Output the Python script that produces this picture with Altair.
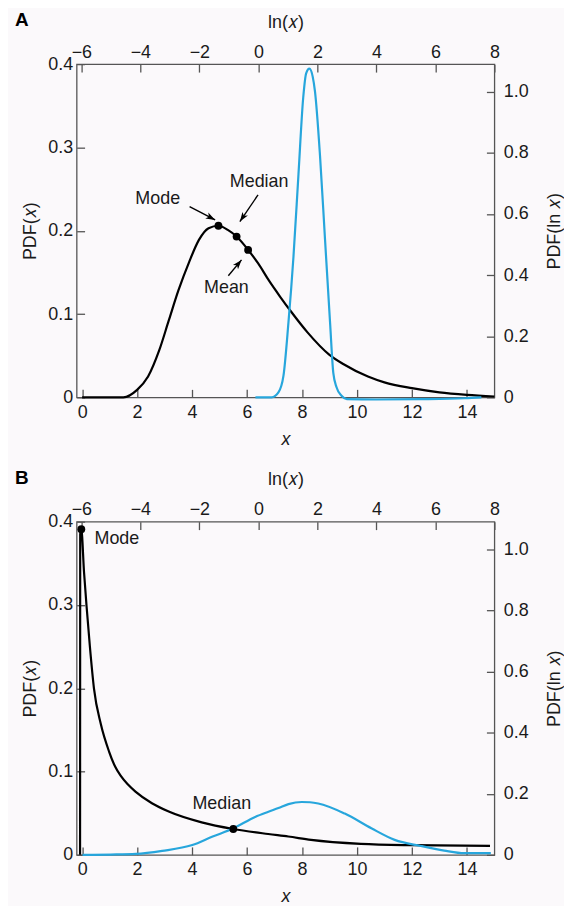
import math
import altair as alt
import pandas as pd

# ---------------- Panel A data ----------------
a_x = [0, 1.5, 2.0, 2.4, 2.8, 3.15, 3.5, 3.9, 4.25, 4.6, 4.96, 5.3, 5.62, 6.04,
       6.4, 6.8, 7.2, 7.6, 8.2, 9.0, 9.5, 10.4, 11, 12, 13, 14, 15]
a_pdf = [0, 0, 0.009, 0.025, 0.056, 0.092, 0.128, 0.163, 0.189, 0.203, 0.206, 0.201,
         0.193, 0.177, 0.161, 0.140, 0.121, 0.103, 0.078, 0.051, 0.040, 0.025, 0.018,
         0.011, 0.006, 0.003, 0.001]
a_lnx = [-0.1, 0.45, 0.68, 0.85, 1.02, 1.19, 1.36, 1.52, 1.62, 1.73, 1.84, 1.92, 2.09,
         2.26, 2.43, 2.54, 2.65, 2.82, 3.0, 4.0, 5.5, 7.0, 7.56]
a_pdf_ln = [0, 0, 0.016, 0.07, 0.245, 0.46, 0.73, 0.98, 1.06, 1.075, 1.05, 1.0, 0.79,
            0.516, 0.245, 0.08, 0.033, 0.005, -0.006, -0.007, -0.006, -0.003, 0]
a_dot_label = ["Mode", "Median", "Mean"]
a_dot_x = [4.96, 5.62, 6.04]
a_dot_y = [0.206, 0.193, 0.177]
a_text_x = [2.75, 6.44, 5.25]
a_text_y = [0.2385, 0.2587, 0.131]
a_text_align = ["center", "center", "center"]
a_arrow_x1 = [3.91, 6.40, 5.32]
a_arrow_y1 = [0.229, 0.243, 0.146]
a_arrow_x2 = [4.84, 5.74, 5.80]
a_arrow_y2 = [0.213, 0.211, 0.165]

# ---------------- Panel B data ----------------
b_x = [-0.075, -0.07, -0.03, 0.07, 0.16, 0.28, 0.43, 0.68, 0.98, 1.2, 1.4, 1.65, 1.94,
       2.54, 3.15, 4.35, 5.5, 6.77, 7.5, 8.33, 10.14, 11.95, 14.84]
b_pdf = [0, 0.385, 0.391, 0.339, 0.299, 0.251, 0.2, 0.157, 0.124, 0.106, 0.095, 0.085,
         0.076, 0.062, 0.052, 0.039, 0.031, 0.025, 0.022, 0.018, 0.0132, 0.0116, 0.0108]
b_lnx = [-5.96, -5.0, -4.15, -3.26, -2.24, -1.57, -0.84, -0.11, 0.34, 0.68, 1.02, 1.47,
         1.75, 2.03, 2.93, 3.83, 4.62, 5.51, 6.30, 6.98, 7.88]
b_pdf_ln = [0, 0.001, 0.003, 0.013, 0.032, 0.059, 0.087, 0.124, 0.141, 0.153, 0.166,
            0.173, 0.172, 0.168, 0.135, 0.087, 0.049, 0.029, 0.014, 0.0055, 0.0055]
b_dot_label = ["Mode", "Median"]
b_dot_x = [-0.03, 5.5]
b_dot_y = [0.391, 0.031]
b_text_x = [0.45, 5.08]
b_text_y = [0.379, 0.061]
b_text_align = ["left", "center"]

# ---------------- axes / ticks ----------------
x_ticks = [0, 2, 4, 6, 8, 10, 12, 14]
lnx_ticks = [-6, -4, -2, 0, 2, 4, 6, 8]
pdf_ticks = [0, 0.1, 0.2, 0.3, 0.4]
pdf_ln_ticks = [0, 0.2, 0.4, 0.6, 0.8, 1.0]
x_domain = [-0.2, 15]
lnx_domain = [-6.16, 8]
pdf_domain = [0, 0.4]
pdf_ln_domain = [0, 1.09]

W, H = 420, 335
BLUE = "#27a6dc"
FONT = "Liberation Sans"
TICK_LEN = 8
ARROW = "M0,0 L-0.7,2 L0,1.5 L0.7,2 Z"
LABEL_EXPR = "datum.value == 0 ? '0' : format(datum.value, '.1f')"

XS = alt.Scale(domain=x_domain, nice=False, zero=False)
YS = alt.Scale(domain=pdf_domain, nice=False, zero=False)
LXS = alt.Scale(domain=lnx_domain, nice=False, zero=False)
LYS = alt.Scale(domain=pdf_ln_domain, nice=False, zero=False)

ax_bottom = alt.Axis(orient="bottom", values=x_ticks, tickSize=TICK_LEN, offset=-TICK_LEN,
                     domain=False, grid=False, labelPadding=6, titlePadding=9,
                     titleFontStyle="italic", labelFlush=False)
ax_left = alt.Axis(orient="left", values=pdf_ticks, tickSize=TICK_LEN, offset=-TICK_LEN,
                   domain=False, grid=False, labelPadding=4, titlePadding=8,
                   labelExpr=LABEL_EXPR, labelFlush=False)
ax_top = alt.Axis(orient="top", values=lnx_ticks, tickSize=TICK_LEN, offset=-TICK_LEN,
                  domain=False, grid=False, labelPadding=3, titlePadding=12, labelFlush=False)
ax_right = alt.Axis(orient="right", values=pdf_ln_ticks, tickSize=TICK_LEN, offset=-TICK_LEN,
                    domain=False, grid=False, labelPadding=9, titlePadding=17,
                    labelExpr=LABEL_EXPR, titleAngle=270, titleBaseline="top", labelFlush=False)


def angle_of(x1, y1, x2, y2):
    sx = W / (x_domain[1] - x_domain[0])
    sy = H / (pdf_domain[1] - pdf_domain[0])
    a = math.degrees(math.atan2((x2 - x1) * sx, (y2 - y1) * sy))
    return a % 360


def panel(black_x, black_y, blue_x, blue_y, dots, texts, arrows, letter):
    black = pd.DataFrame({"x": black_x, "pdf": black_y})
    blue = pd.DataFrame({"lnx": blue_x, "pdfln": blue_y})

    black_line = alt.Chart(black).mark_line(color="black", strokeWidth=2.2,
                                            interpolate="monotone").encode(
        x=alt.X("x:Q", scale=XS, axis=ax_bottom, title="x"),
        y=alt.Y("pdf:Q", scale=YS, axis=ax_left, title="PDF(𝑥)"),
    )
    blue_line = alt.Chart(blue).mark_line(color=BLUE, strokeWidth=2.2, clip=False,
                                          interpolate="monotone").encode(
        x=alt.X("lnx:Q", scale=LXS, axis=ax_top, title="ln(𝑥)"),
        y=alt.Y("pdfln:Q", scale=LYS, axis=ax_right, title="PDF(ln 𝑥)"),
    )
    layers = [black_line, blue_line]
    for al in sorted(set(texts["align"])):
        sub = texts[texts["align"] == al]
        layers.append(alt.Chart(sub).mark_text(font=FONT, fontSize=18, color="#1a1a1a",
                                               baseline="middle", align=al).encode(
            x=alt.X("x:Q", scale=XS, axis=None), y=alt.Y("y:Q", scale=YS, axis=None),
            text="label:N"))
    if arrows is not None:
        layers.append(alt.Chart(arrows).mark_rule(color="black", strokeWidth=1.4).encode(
            x=alt.X("x1:Q", scale=XS, axis=None), y=alt.Y("y1:Q", scale=YS, axis=None),
            x2="x2:Q", y2="y2:Q"))
        layers.append(alt.Chart(arrows).mark_point(shape=ARROW, filled=True, size=90,
                                                   color="black", opacity=1,
                                                   strokeWidth=0).encode(
            x=alt.X("x2:Q", scale=XS, axis=None), y=alt.Y("y2:Q", scale=YS, axis=None),
            angle=alt.Angle("ang:Q", scale=None)))
    layers.append(alt.Chart(dots).mark_circle(color="black", size=62, opacity=1).encode(
        x=alt.X("x:Q", scale=XS, axis=None), y=alt.Y("y:Q", scale=YS, axis=None)))
    return alt.layer(*layers).resolve_scale(
        x="independent", y="independent").properties(
        width=W, height=H,
        title=alt.Title(letter, anchor="start", frame="bounds", font=FONT, fontSize=19,
                        fontWeight="bold", dy=17, dx=-7, offset=0))


a_dots = pd.DataFrame({"label": a_dot_label, "x": a_dot_x, "y": a_dot_y})
a_texts = pd.DataFrame({"label": a_dot_label, "x": a_text_x, "y": a_text_y,
                        "align": a_text_align})
a_arrows = pd.DataFrame({"x1": a_arrow_x1, "y1": a_arrow_y1, "x2": a_arrow_x2, "y2": a_arrow_y2})
a_arrows["ang"] = [angle_of(r.x1, r.y1, r.x2, r.y2) for r in a_arrows.itertuples()]

b_dots = pd.DataFrame({"label": b_dot_label, "x": b_dot_x, "y": b_dot_y})
b_texts = pd.DataFrame({"label": b_dot_label, "x": b_text_x, "y": b_text_y,
                        "align": b_text_align})

chart_a = panel(a_x, a_pdf, a_lnx, a_pdf_ln, a_dots, a_texts, a_arrows, "A")
chart_b = panel(b_x, b_pdf, b_lnx, b_pdf_ln, b_dots, b_texts, None, "B")

chart = alt.vconcat(chart_a, chart_b, spacing=19).properties(
    background="#fbf9fb",
    padding={"left": 6, "right": 0, "top": 0, "bottom": 0},
).configure_view(stroke="#555555", strokeWidth=1.3).configure_axis(
    labelFont=FONT, titleFont=FONT, labelFontSize=18, titleFontSize=18,
    titleFontWeight="normal", labelColor="#1a1a1a", titleColor="#1a1a1a",
    tickColor="#555555", tickWidth=1.3,
)

chart.save("out.html", embed_options={"renderer": "svg", "actions": False})
